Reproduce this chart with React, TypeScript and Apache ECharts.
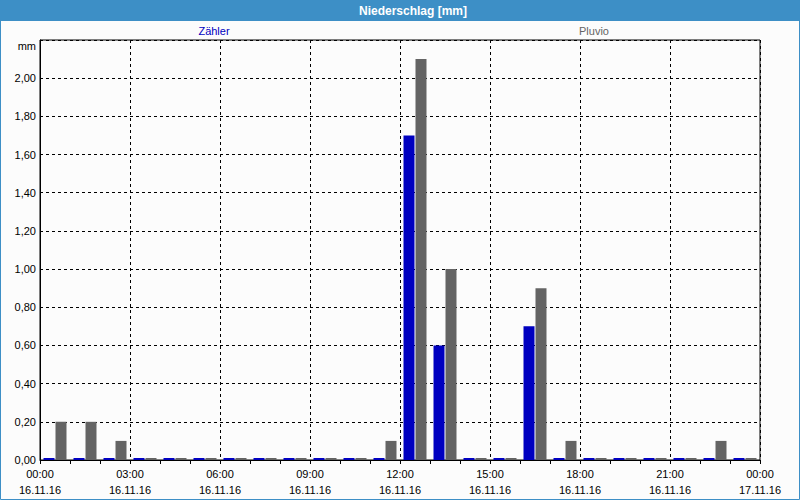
import React, { useEffect, useRef } from "react";
import * as echarts from "echarts";

const hours = [0, 1, 2, 3, 4, 5, 6, 7, 8, 9, 10, 11, 12, 13, 14, 15, 16, 17, 18, 19, 20, 21, 22, 23];
const zaehler = [0, 0, 0, 0, 0, 0, 0, 0, 0, 0, 0, 0, 1.7, 0.6, 0, 0, 0.7, 0, 0, 0, 0, 0, 0, 0];
const pluvio = [0.2, 0.2, 0.1, 0, 0, 0, 0, 0, 0, 0, 0, 0.1, 2.1, 1.0, 0, 0, 0.9, 0.1, 0, 0, 0, 0, 0.1, 0];
const xTickLabels = [
  "00:00\n16.11.16",
  "03:00\n16.11.16",
  "06:00\n16.11.16",
  "09:00\n16.11.16",
  "12:00\n16.11.16",
  "15:00\n16.11.16",
  "18:00\n16.11.16",
  "21:00\n16.11.16",
  "00:00\n17.11.16",
];
const titleText = "Niederschlag [mm]";
const seriesNames = ["Zähler", "Pluvio"];
const unitLabel = "mm";

const FONT = "Liberation Sans";

export default function App() {
  const ref = useRef<HTMLDivElement>(null);
  useEffect(() => {
    if (!ref.current) return;
    const chart = echarts.init(ref.current, undefined, { renderer: "svg" });
    chart.setOption({
      animation: false,
      backgroundColor: "#fcfcfc",
      textStyle: { fontFamily: FONT },
      title: [
        {
          text: titleText,
          left: 408,
          top: 0,
          textAlign: "center",
          textStyle: { color: "#ffffff", fontSize: 12, fontWeight: "bold", fontFamily: FONT },
        },
        {
          text: seriesNames[0],
          left: 209,
          top: 20,
          textAlign: "center",
          textStyle: { color: "#0000c0", fontSize: 11, fontWeight: "normal", fontFamily: FONT },
        },
        {
          text: seriesNames[1],
          left: 589,
          top: 20,
          textAlign: "center",
          textStyle: { color: "#646464", fontSize: 11, fontWeight: "normal", fontFamily: FONT },
        },
      ],
      graphic: [
        {
          type: "rect",
          z: -1,
          shape: { x: 0, y: 0, width: 800, height: 21 },
          style: { fill: "#3d8fc6" },
        },
        {
          type: "rect",
          z: -1,
          shape: { x: 0.5, y: 0.5, width: 799, height: 499 },
          style: { fill: "none", stroke: "#3d8fc6", lineWidth: 1 },
        },
      ],
      grid: {
        left: 40,
        right: 40,
        top: 40,
        bottom: 40,
        show: true,
        borderColor: "#000",
        borderWidth: 1,
        backgroundColor: "transparent",
      },
      xAxis: {
        type: "value",
        min: 0,
        max: 24,
        interval: 3,
        axisLine: { show: true, lineStyle: { color: "#000" } },
        axisTick: { show: true, length: 4, lineStyle: { color: "#000" } },
        minorTick: { show: true, splitNumber: 3, length: 4, lineStyle: { color: "#000" } },
        splitLine: { show: true, lineStyle: { color: "#000", type: [3, 3] } },
        axisLabel: {
          color: "#000",
          fontSize: 11,
          fontFamily: FONT,
          lineHeight: 16,
          margin: 6,
          formatter: (v: number) => xTickLabels[Math.round(v / 3)] ?? "",
        },
      },
      yAxis: {
        type: "value",
        min: 0,
        max: 2.2,
        interval: 0.2,
        axisLine: { show: true, lineStyle: { color: "#000" } },
        axisTick: { show: false },
        splitLine: { show: true, lineStyle: { color: "#000", type: [3, 3] } },
        axisLabel: {
          color: "#000",
          fontSize: 11,
          fontFamily: FONT,
          margin: 4,
          formatter: (v: number) =>
            v > 2.15 ? "{u|" + unitLabel + "}" : v.toFixed(2).replace(".", ","),
          rich: {
            u: { fontSize: 11, fontFamily: FONT, color: "#000", padding: [12, 0, 0, 0] },
          },
        },
      },
      series: [
        {
          name: seriesNames[0],
          type: "bar",
          data: hours.map((h, i) => [h + 0.5, zaehler[i]]),
          barWidth: 11,
          barGap: "9%",
          barMinHeight: 2,
          itemStyle: { color: "#0000c0" },
        },
        {
          name: seriesNames[1],
          type: "bar",
          data: hours.map((h, i) => [h + 0.5, pluvio[i]]),
          barWidth: 11,
          barGap: "9%",
          barMinHeight: 2,
          itemStyle: { color: "#646464" },
        },
      ],
    });
    return () => chart.dispose();
  }, []);
  return (
    <div
      ref={ref}
      style={{ position: "absolute", left: 0, top: 0, width: 800, height: 500 }}
    />
  );
}
